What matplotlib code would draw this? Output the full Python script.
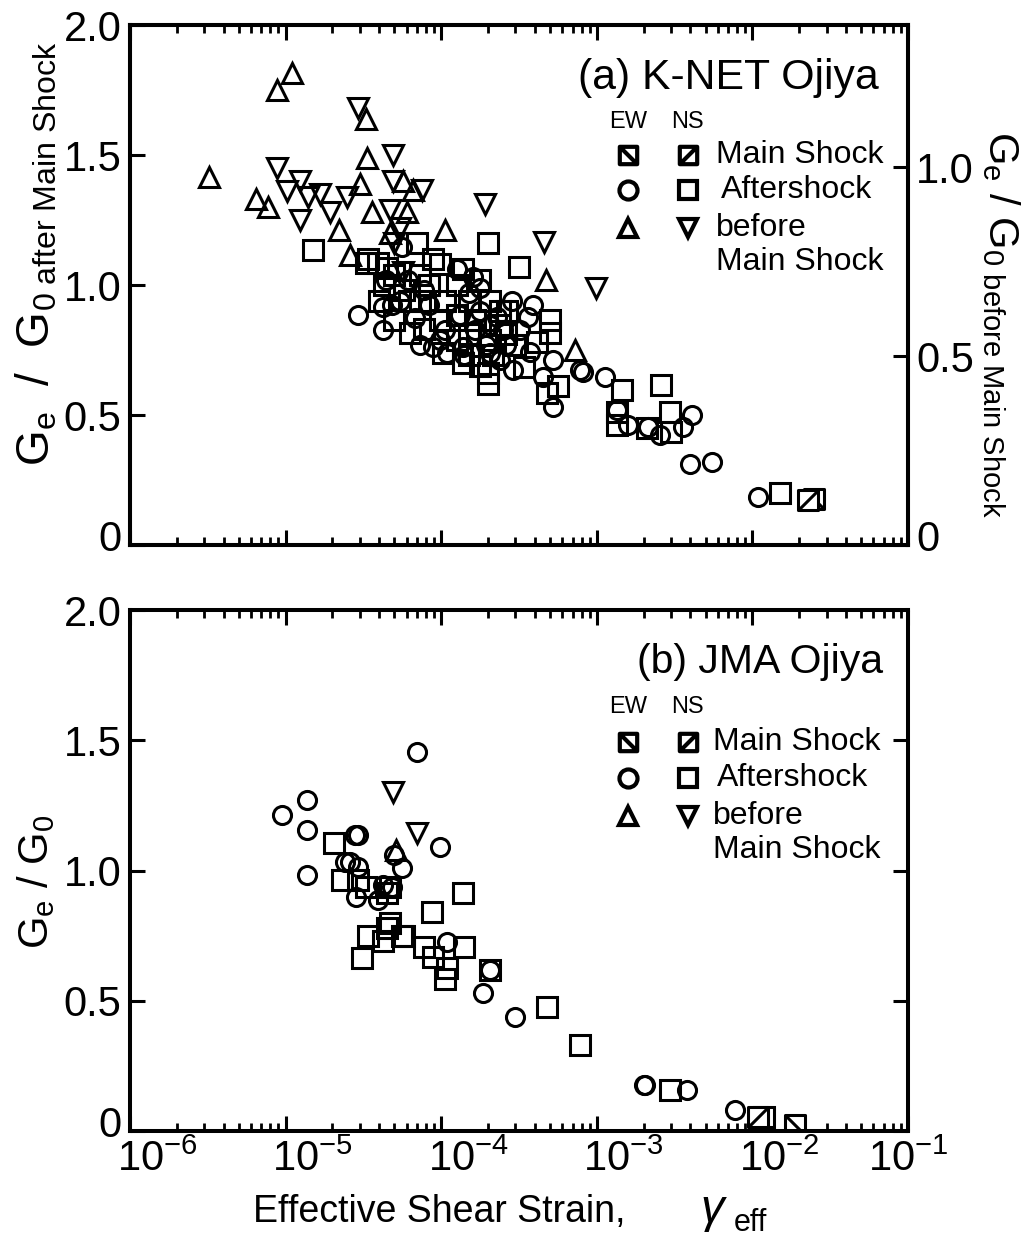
import numpy as np
import matplotlib.pyplot as plt
from matplotlib.path import Path
from matplotlib.transforms import ScaledTranslation
from matplotlib.ticker import LogLocator, NullFormatter

plt.rcParams['font.family'] = ['Liberation Sans', 'DejaVu Sans']
plt.rcParams['mathtext.fontset'] = 'custom'
plt.rcParams['mathtext.rm'] = 'Liberation Sans'
plt.rcParams['mathtext.it'] = 'Liberation Sans:italic'
plt.rcParams['mathtext.bf'] = 'Liberation Sans:bold'

# ---- (a) K-NET Ojiya ----
a_ew_main_x = [0.0249]
a_ew_main_y = [0.177]
a_ns_main_x = [0.0228]
a_ns_main_y = [0.173]

a_ew_after_x = [2.92e-5, 4.2e-5, 4.2e-5, 5.6e-5, 4.45e-5, 1.6e-4, 1.78e-4, 3.6e-4, 2.3e-4, 2.9e-4,
                4.5e-4, 5.2e-4, 7.8e-4, 5.2e-4, 8.8e-5, 1.09e-4, 1.38e-4, 2.06e-4, 2.5e-4, 8.1e-4,
                1.13e-3, 1.35e-3, 1.58e-3, 2.15e-3, 2.55e-3, 3.6e-3, 4.1e-3, 3.97e-3, 5.5e-3, 1.09e-2,
                5.4e-5, 6.8e-5, 8.4e-5, 1.06e-4, 1.32e-4, 1.65e-4, 2.06e-4, 2.6e-4, 7.3e-5, 1.5e-4,
                1.95e-4, 2.4e-4, 3.2e-4, 3.7e-4, 4.8e-5, 6.1e-5, 7.8e-5, 1.26e-4, 9.8e-5, 1.4e-4,
                1.78e-4, 2.85e-4, 3.9e-4]
a_ew_after_y = [0.885, 0.915, 0.827, 1.146, 1.02, 1.03, 0.99, 0.877, 0.877, 0.673,
                0.646, 0.71, 0.673, 0.53, 0.76, 0.74, 0.76, 0.74, 0.827, 0.665,
                0.646, 0.52, 0.46, 0.454, 0.423, 0.454, 0.50, 0.31, 0.32, 0.185,
                0.94, 0.873, 0.923, 0.827, 0.885, 0.827, 0.846, 0.77, 0.77, 0.97,
                0.77, 0.71, 0.827, 0.742, 0.923, 1.02, 0.98, 1.06, 0.79, 0.73,
                0.90, 0.94, 0.923]

a_ns_after_x = [1.5e-5, 3.3e-5, 3.4e-5, 3.9e-5, 4.5e-5, 7.0e-5, 8.8e-5, 1.38e-4, 1.78e-4, 2.65e-4,
                5.0e-4, 5.0e-4, 4.1e-4, 3.4e-4, 5.6e-4, 4.8e-4, 2.0e-4, 2.0e-4, 1.38e-4, 1.03e-4,
                6.3e-5, 2.06e-4, 1.45e-3, 2.6e-3, 1.35e-3, 1.35e-3, 2.1e-3, 2.95e-3, 3.0e-3, 1.5e-2,
                5.0e-5, 5.8e-5, 7.3e-5, 8.4e-5, 1.06e-4, 1.26e-4, 1.5e-4, 1.65e-4, 2.06e-4, 2.4e-4,
                2.4e-4, 2.6e-4, 1.5e-4, 1.26e-4, 9.8e-5, 7.8e-5, 6.2e-5, 5.0e-5, 4.0e-5, 4.3e-5,
                7.3e-5, 9.8e-5, 1.26e-4, 1.5e-4, 1.78e-4, 2.15e-4, 3.0e-4, 2.0e-4, 3.15e-4]
a_ns_after_y = [1.135, 1.085, 1.10, 1.085, 1.065, 1.16, 1.10, 1.06, 1.02, 0.90,
                0.865, 0.815, 0.78, 0.685, 0.61, 0.585, 0.66, 0.62, 0.70, 0.74,
                0.815, 0.79, 0.595, 0.615, 0.51, 0.46, 0.45, 0.51, 0.435, 0.20,
                1.04, 0.98, 0.94, 1.0, 0.94, 0.885, 0.94, 0.865, 0.94, 0.90,
                0.846, 0.81, 0.81, 0.79, 0.865, 0.83, 0.94, 0.865, 0.94, 1.0,
                1.04, 1.08, 1.0, 0.73, 0.69, 0.73, 0.77, 1.16, 1.07]

a_ew_before_x = [3.2e-6, 8.8e-6, 1.10e-5, 6.5e-6, 7.7e-6, 3.3e-5, 3.35e-5, 3.0e-5, 3.6e-5, 2.2e-5,
                 2.6e-5, 1.06e-4, 5.7e-5, 6.6e-5, 4.7e-5, 6.0e-5, 4.7e-4, 7.3e-4]
a_ew_before_y = [1.415, 1.75, 1.815, 1.33, 1.30, 1.64, 1.49, 1.39, 1.28, 1.21,
                 1.115, 1.21, 1.40, 1.365, 1.20, 1.28, 1.02, 0.75]

a_ns_before_x = [8.8e-6, 1.02e-5, 1.24e-5, 1.39e-5, 1.66e-5, 1.93e-5, 1.24e-5, 2.48e-5, 2.92e-5, 4.9e-5,
                 4.9e-5, 7.5e-5, 4.7e-5, 5.4e-5, 5.0e-5, 5.7e-5, 1.9e-4, 4.6e-4, 9.9e-4]
a_ns_before_y = [1.45, 1.36, 1.40, 1.34, 1.35, 1.28, 1.25, 1.34, 1.68, 1.50,
                 1.40, 1.365, 1.29, 1.22, 1.16, 1.05, 1.31, 1.165, 0.99]

# ---- (b) JMA Ojiya ----
b_ew_main_x = [0.0189]
b_ew_main_y = [0.023]
b_ns_main_x = [0.0109]
b_ns_main_y = [0.054]

b_ew_after_x = [7.0e-5, 1.38e-5, 9.5e-6, 1.37e-5, 1.37e-5, 2.78e-5, 2.9e-5, 9.8e-5, 5.0e-5, 5.6e-5,
                2.4e-5, 2.6e-5, 2.9e-5, 2.85e-5, 3.9e-5, 1.09e-4, 2.06e-4, 1.86e-4, 3.0e-4, 2.0e-3,
                2.05e-3, 3.8e-3, 7.7e-3, 4.2e-5, 4.8e-5]
b_ew_after_y = [1.455, 1.27, 1.213, 1.155, 0.983, 1.136, 1.136, 1.09, 1.06, 1.01,
                1.033, 1.033, 1.013, 0.90, 0.887, 0.725, 0.618, 0.53, 0.438, 0.177,
                0.175, 0.157, 0.08, 0.944, 0.937]

b_ns_after_x = [2.06e-5, 2.3e-5, 2.9e-5, 3.3e-5, 4.7e-5, 4.5e-5, 1.38e-4, 8.7e-5, 4.7e-5, 3.4e-5,
                4.2e-5, 5.8e-5, 7.7e-5, 8.8e-5, 1.41e-4, 3.1e-5, 1.09e-4, 2.06e-4, 1.06e-4, 4.8e-4,
                7.8e-4, 2.95e-3, 1.18e-2, 4.5e-5, 5.6e-5]
b_ns_after_y = [1.105, 0.965, 0.965, 0.937, 0.937, 0.914, 0.914, 0.84, 0.80, 0.75,
                0.73, 0.75, 0.706, 0.668, 0.706, 0.664, 0.626, 0.618, 0.585, 0.476,
                0.33, 0.157, 0.054, 0.78, 0.75]

b_ew_before_x = [5.1e-5]
b_ew_before_y = [1.08]
b_ns_before_x = [4.9e-5, 7.0e-5]
b_ns_before_y = [1.30, 1.145]

xticks = [1e-6, 1e-5, 1e-4, 1e-3, 1e-2, 1e-1]
xticklabels = [r'$\mathrm{10^{-6}}$', r'$\mathrm{10^{-5}}$', r'$\mathrm{10^{-4}}$',
               r'$\mathrm{10^{-3}}$', r'$\mathrm{10^{-2}}$', r'$\mathrm{10^{-1}}$']
yticks = [0, 0.5, 1.0, 1.5, 2.0]
yticklabels = ['0', '0.5', '1.0', '1.5', '2.0']
yticks_right = [0, 0.5, 1.0]
yticklabels_right = ['0', '0.5', '1.0']

# main shock symbols: square with a diagonal
ew_mark = Path([(-1, -1), (1, -1), (1, 1), (-1, 1), (-1, -1), (-1, 1), (1, -1)],
               [Path.MOVETO, Path.LINETO, Path.LINETO, Path.LINETO, Path.CLOSEPOLY,
                Path.MOVETO, Path.LINETO])
ns_mark = Path([(-1, -1), (1, -1), (1, 1), (-1, 1), (-1, -1), (-1, -1), (1, 1)],
               [Path.MOVETO, Path.LINETO, Path.LINETO, Path.LINETO, Path.CLOSEPOLY,
                Path.MOVETO, Path.LINETO])

MEW = 2.2
sty = dict(ls='none', mfc='none', mec='black', mew=MEW)

fig = plt.figure(figsize=(10.34, 12.41), dpi=100)
ax1 = fig.add_axes([0.1257, 0.5608, 0.7524, 0.419])
ax2 = fig.add_axes([0.1257, 0.0886, 0.7524, 0.4198])


def draw_panel(ax, ew_after, ns_after, ew_before, ns_before, ew_main, ns_main):
    ax.plot(*ew_after, marker='o', ms=13, **sty)
    ax.plot(*ns_after, marker='s', ms=14.4, **sty)
    ax.plot(*ew_before, marker='^', ms=14.5, **sty)
    ax.plot(*ns_before, marker='v', ms=14.5, **sty)
    ax.plot(*ew_main, marker=ew_mark, ms=14.4, ls='none', mfc='white', mec='black', mew=MEW)
    ax.plot(*ns_main, marker=ns_mark, ms=14.4, ls='none', mfc='white', mec='black', mew=MEW)


def legend(ax, title, tsize, tx, ty, rows_y, col_x, text_x):
    ax.text(tx, ty, title, transform=ax.transAxes, fontsize=tsize, ha='center', va='center')
    ax.text(col_x[0], rows_y[0], 'EW', transform=ax.transAxes, fontsize=17, ha='center', va='center')
    ax.text(col_x[1], rows_y[0], 'NS', transform=ax.transAxes, fontsize=17, ha='center', va='center')
    syms = [(ew_mark, ns_mark, 'Main Shock'), ('o', 's', 'Aftershock'), ('^', 'v', 'before')]
    for i, (m1, m2, lab) in enumerate(syms):
        y = rows_y[i + 1]
        for cx, m in zip(col_x, (m1, m2)):
            ms = 13 if m in ('o', '^', 'v') else 12.5
            ax.plot([cx], [y], marker=m, ms=ms, ls='none', mfc='white', mec='black',
                    mew=3.0, transform=ax.transAxes, clip_on=False)
        ax.text(text_x + (0.006 if lab == 'Aftershock' else 0), y, lab, transform=ax.transAxes,
                fontsize=23, ha='left', va='center')
    ax.text(text_x, rows_y[4], 'Main Shock', transform=ax.transAxes, fontsize=23,
            ha='left', va='center')


def style(ax, right=True):
    ax.set_xscale('log')
    ax.set_xlim(1e-6, 1e-1)
    ax.set_ylim(0, 2.0)
    ax.set_xticks(xticks)
    ax.xaxis.set_minor_locator(LogLocator(base=10, subs=np.arange(2, 10)))
    ax.xaxis.set_minor_formatter(NullFormatter())
    ax.set_yticks(yticks)
    ax.set_yticklabels(yticklabels)
    for s in ax.spines.values():
        s.set_linewidth(2.9)
    ax.tick_params(axis='both', which='major', direction='in', length=11, width=2.2,
                   labelsize=30, top=True, right=right, pad=6)
    ax.tick_params(axis='x', which='minor', direction='in', length=6, width=2.0, top=True)
    ax.tick_params(axis='y', which='minor', left=False, right=False)


draw_panel(ax1, (a_ew_after_x, a_ew_after_y), (a_ns_after_x, a_ns_after_y),
           (a_ew_before_x, a_ew_before_y), (a_ns_before_x, a_ns_before_y),
           (a_ew_main_x, a_ew_main_y), (a_ns_main_x, a_ns_main_y))
draw_panel(ax2, (b_ew_after_x, b_ew_after_y), (b_ns_after_x, b_ns_after_y),
           (b_ew_before_x, b_ew_before_y), (b_ns_before_x, b_ns_before_y),
           (b_ew_main_x, b_ew_main_y), (b_ns_main_x, b_ns_main_y))

style(ax1, right=False)
style(ax2, right=True)
ax1.set_xticklabels([])
ax2.set_xticklabels(xticklabels)

ax1r = ax1.twinx()
ax1r.set_ylim(0, 1.376)
ax1r.set_yticks(yticks_right)
ax1r.set_yticklabels(yticklabels_right)
ax1r.tick_params(axis='y', direction='in', length=11, width=2.2, labelsize=30, pad=6)
for s in ax1r.spines.values():
    s.set_linewidth(2.9)

ax1.set_ylabel(r'$\mathrm{G_e\ \ /\ \ G_{0\ after\ Main\ Shock}}$', fontsize=33, va='center')
ax1.yaxis.set_label_coords(-0.12, 0.56)
ax1r.set_ylabel(r'$\mathrm{G_e\ /\ G_{0\ before\ Main\ Shock}}$', fontsize=30,
                rotation=270, va='center')
ax1r.yaxis.set_label_coords(1.12, 0.425)
ax2.set_ylabel(r'$\mathrm{G_e\ /\ G_0}$', fontsize=30, va='center')
ax2.yaxis.set_label_coords(-0.12, 0.478)

# x label: text, then a larger italic gamma with its subscript
ax2.set_xlabel('Effective Shear Strain,', fontsize=27, va='baseline', ha='left')
ax2.xaxis.set_label_coords(0.158, -0.175)
fig.text(7.00, 0.19, r'$\gamma$', fontsize=34, family=['Liberation Serif', 'DejaVu Serif'],
         style='italic', ha='left', va='baseline', transform=fig.dpi_scale_trans)
fig.text(7.34, 0.10, 'eff', fontsize=22, ha='left', va='baseline',
         transform=fig.dpi_scale_trans)

legend(ax1, '(a) K-NET Ojiya', 30.8, 0.769, 0.898, [0.813, 0.750, 0.683, 0.610, 0.544],
       [0.640, 0.717], 0.753)
legend(ax2, '(b) JMA Ojiya', 29.5, 0.810, 0.900, [0.814, 0.747, 0.678, 0.605, 0.539],
       [0.640, 0.717], 0.749)

# label nudges like the original
shift_x = ScaledTranslation(0.27, 0, fig.dpi_scale_trans)
for lab in ax2.get_xticklabels()[:-1]:
    lab.set_transform(lab.get_transform() + shift_x)
shift_y = ScaledTranslation(0, 0.10, fig.dpi_scale_trans)
for a in (ax1, ax2, ax1r):
    lab = a.get_yticklabels()[0]
    lab.set_transform(lab.get_transform() + shift_y)

fig.savefig('out.png', dpi=100)
